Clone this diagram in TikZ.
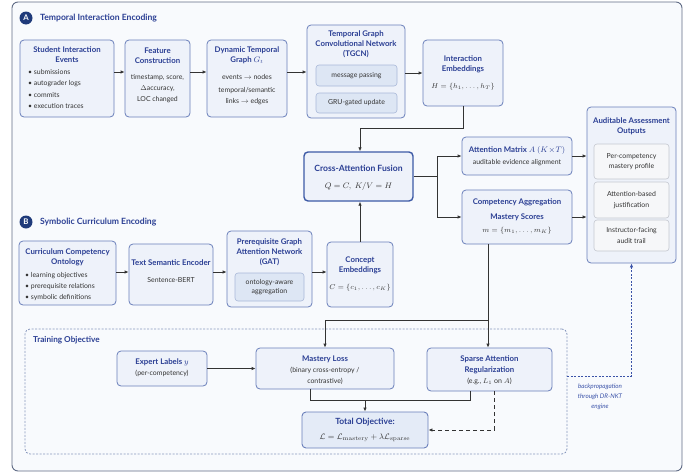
\documentclass[tikz,border=0pt]{standalone}
\usepackage[no-math]{fontspec}
\setmainfont{Lato}
\usetikzlibrary{arrows.meta}
\definecolor{framec}{HTML}{5F6B85}
\definecolor{framef}{HTML}{F8FAFD}
\definecolor{boxc}{HTML}{6A7FBA}
\definecolor{boxf}{HTML}{EEF2FA}
\definecolor{innc}{HTML}{A9B8D8}
\definecolor{innf}{HTML}{DDE6F4}
\definecolor{outc}{HTML}{C4C8D0}
\definecolor{outf}{HTML}{F6F7F9}
\definecolor{tblue}{HTML}{2B3F94}
\definecolor{navy}{HTML}{1F3A7A}
\definecolor{txtc}{HTML}{333333}
\definecolor{linec}{HTML}{333333}
\definecolor{cafc}{HTML}{3D5AA6}
\definecolor{trainc}{HTML}{8797BD}
\definecolor{bpc}{HTML}{3A52A8}
\definecolor{tobjf}{HTML}{E4EBF7}
\tikzset{
  framest/.style={draw=framec, fill=framef, rounded corners=6pt, line width=0.9pt},
  box/.style={draw=boxc, fill=boxf, rounded corners=4pt, line width=0.8pt, inner sep=0},
  cafst/.style={draw=cafc, fill=boxf, rounded corners=4pt, line width=1.4pt, inner sep=0},
  tobjst/.style={draw=boxc, fill=tobjf, rounded corners=4pt, line width=0.9pt, inner sep=0},
  innerbox/.style={draw=innc, fill=innf, rounded corners=3pt, line width=0.6pt, inner sep=0},
  outbox/.style={draw=outc, fill=outf, rounded corners=3pt, line width=0.6pt, inner sep=0},
  trainst/.style={draw=trainc, dash pattern=on 2pt off 1.5pt, rounded corners=5pt, line width=0.8pt, inner sep=0},
  ttl/.style={font=\fontsize{7.8}{10}\selectfont\bfseries, text=tblue, align=center, inner sep=0},
  txt/.style={font=\fontsize{6.9}{11}\selectfont, text=txtc, align=center, inner sep=0},
  mth/.style={font=\fontsize{7.3}{10}\selectfont, text=txtc, inner sep=0},
  lst/.style={font=\fontsize{6.9}{11.2}\selectfont, text=txtc, align=left, inner sep=0, anchor=west},
  sechd/.style={font=\fontsize{8.6}{9}\selectfont\bfseries, text=tblue, inner sep=0, anchor=west},
  badge/.style={circle, fill=navy, text=white, font=\fontsize{7.8}{8}\selectfont\bfseries, minimum size=13pt, inner sep=0},
  ln/.style={draw=linec, line width=0.8pt},
  arr/.style={draw=linec, line width=0.8pt, -{Latex[length=4pt,width=3.5pt]}},
  dsh/.style={dash pattern=on 4pt off 3pt},
  bpst/.style={draw=bpc, line width=0.8pt, dash pattern=on 2pt off 1.5pt, -{Latex[length=4pt,width=3.5pt]}},
  bptxt/.style={font=\fontsize{6.3}{10}\selectfont\itshape, text=bpc, align=center, inner sep=0}
}
\newcommand\bx[6]{\node[#6, minimum width={(#4-#2)*1pt}, minimum height={(#5-#3)*1pt}] (#1) at ({(#2+#4)/2},{(#3+#5)/2}) {};}
\begin{document}
\begin{tikzpicture}[x=1pt,y=-1pt]
\useasboundingbox (0,0) rectangle (697,474);
\bx{frame}{12}{2}{682}{471}{framest}
% ---------- Section A
\node[badge] (badgeA) at (26,18) {A};
\node[sechd] (secA) at (40,18) {Temporal Interaction Encoding};
\bx{sie}{20}{40}{114}{117}{box}
\node[ttl] (sieT) at (67,55) {Student Interaction\\Events};
\node[lst] (sieL) at (28,89) {• submissions\\• autograder logs\\• commits\\• execution traces};
\bx{fc}{125}{40}{190}{117}{box}
\node[ttl] (fcT) at (157.5,55.5) {Feature\\Construction};
\node[txt] (fcB) at (157.5,88.7) {timestamp, score,\\$\Delta$accuracy,\\LOC changed};
\bx{dtg}{207}{40}{287}{117}{box}
\node[ttl] (dtgT) at (247,55.5) {Dynamic Temporal\\Graph $G_t$};
\node[txt] (dtgB1) at (247,77) {events $\rightarrow$ nodes};
\node[txt] (dtgB2) at (247,96.5) {temporal/semantic\\links $\rightarrow$ edges};
\bx{tgcn}{307}{25}{405}{118}{box}
\node[ttl] (tgcnT) at (356,44.5) {Temporal Graph\\Convolutional Network\\(TGCN)};
\bx{mp}{316}{65}{397}{86}{innerbox}
\node[txt] (mpT) at (mp) {message passing};
\bx{gru}{316}{93}{397}{113}{innerbox}
\node[txt] (gruT) at (gru) {GRU-gated update};
\bx{ie}{423}{40}{503}{106}{box}
\node[ttl] (ieT) at (463,64.5) {Interaction\\Embeddings};
\node[mth] (ieM) at (463,87) {$H=\{h_1,\ldots,h_T\}$};
% ---------- Middle
\bx{caf}{304}{152}{413}{201}{cafst}
\node[ttl, font=\fontsize{8.6}{10}\selectfont\bfseries] (cafT) at (358.5,168) {Cross-Attention Fusion};
\node[mth, font=\fontsize{8.4}{10}\selectfont] (cafM) at (358.5,186) {$Q=C,\ K/V=H$};
\bx{am}{462}{137}{572}{175}{box}
\node[ttl] (amT) at (517,150) {Attention Matrix $A$ $(K\!\times\! T)$};
\node[txt] (amB) at (517,163) {auditable evidence alignment};
\bx{ca}{462}{190}{572}{244}{box}
\node[ttl] (caT) at (517,202) {Competency Aggregation};
\node[ttl] (caT2) at (517,217) {Mastery Scores};
\node[mth] (caM) at (517,231) {$m=\{m_1,\ldots,m_K\}$};
\bx{aao}{587}{107}{676}{263}{box}
\node[ttl] (aaoT) at (631.5,126) {Auditable Assessment\\Outputs};
\bx{o1}{594}{144}{669}{179}{outbox}
\node[txt, font=\fontsize{6.9}{10.5}\selectfont] (o1T) at (o1) {Per-competency\\mastery profile};
\bx{o2}{594}{182}{669}{218}{outbox}
\node[txt, font=\fontsize{6.9}{10.5}\selectfont] (o2T) at (o2) {Attention-based\\justification};
\bx{o3}{594}{220}{669}{251}{outbox}
\node[txt, font=\fontsize{6.9}{10.5}\selectfont] (o3T) at (o3) {Instructor-facing\\audit trail};
% ---------- Section B
\node[badge] (badgeB) at (26,222) {B};
\node[sechd] (secB) at (40,222) {Symbolic Curriculum Encoding};
\bx{cco}{19}{241}{116}{305}{box}
\node[ttl] (ccoT) at (67.5,257) {Curriculum Competency\\Ontology};
\node[lst] (ccoL) at (25,286.5) {• learning objectives\\• prerequisite relations\\• symbolic definitions};
\bx{tse}{129}{244}{213}{305}{box}
\node[ttl] (tseT) at (171,263) {Text Semantic Encoder};
\node[txt] (tseB) at (171,280) {Sentence-BERT};
\bx{gat}{227}{231}{312}{307}{box}
\node[ttl] (gatT) at (269.5,252.5) {Prerequisite Graph\\Attention Network\\(GAT)};
\bx{oaa}{235}{273}{304}{301}{innerbox}
\node[txt, font=\fontsize{6.9}{9.5}\selectfont] (oaaT) at (oaa) {ontology-aware\\aggregation};
\bx{ce}{327}{242}{393}{307}{box}
\node[ttl] (ceT) at (360,265) {Concept\\Embeddings};
\node[mth] (ceM) at (360,288) {$C=\{c_1,\ldots,c_K\}$};
% ---------- Training
\bx{train}{25}{329}{567}{454}{trainst}
\node[ttl, anchor=west, font=\fontsize{8.2}{10}\selectfont\bfseries] (trainT) at (33,340) {Training Objective};
\bx{el}{117}{351}{207}{386}{box}
\node[ttl] (elT) at (162,362) {Expert Labels $y$};
\node[txt] (elB) at (162,373) {(per-competency)};
\bx{ml}{256}{348}{394}{389}{box}
\node[ttl] (mlT) at (325,359) {Mastery Loss};
\node[txt, font=\fontsize{6.9}{10.5}\selectfont] (mlB) at (325,376) {(binary cross-entropy /\\contrastive)};
\bx{sa}{427}{348}{552}{391}{box}
\node[ttl, font=\fontsize{7.8}{11}\selectfont\bfseries] (saT) at (489.5,364.5) {Sparse Attention\\Regularization};
\node[mth, font=\fontsize{7}{10}\selectfont] (saB) at (489.5,381.5) {(e.g., $L_1$ on $A$)};
\bx{tobj}{302}{412}{428}{448}{tobjst}
\node[ttl, font=\fontsize{8.5}{10}\selectfont\bfseries] (tobjT) at (365,422) {Total Objective:};
\node[mth, font=\fontsize{8.4}{10}\selectfont] (tobjM) at (365,438) {$\mathcal{L}=\mathcal{L}_{\mathrm{mastery}}+\lambda\mathcal{L}_{\mathrm{sparse}}$};
\node[bptxt] (bpT) at (600,397) {backpropagation\\through DR-NKT\\engine};
% ---------- Connectors
\coordinate (rA) at (0,72);
\coordinate (rA2) at (0,73);
\draw[arr] (sie.east |- rA) -- (fc.west |- rA);
\draw[arr] (fc.east |- rA) -- (dtg.west |- rA);
\draw[arr] (dtg.east |- rA) -- (tgcn.west |- rA);
\draw[arr] (tgcn.east |- rA2) -- (ie.west |- rA2);
\coordinate (jA) at (0,128);
\draw[arr] (ie.south) -- (ie.south |- jA) -- (ce.north |- jA) -- (ce.north |- caf.north);
\draw[arr] (ce.north) -- (ce.north |- caf.south);
\coordinate (fx) at (437,0);
\draw[ln] (caf.east) -- (caf.east -| fx);
\draw[arr] (caf.east -| fx) |- (am.west);
\draw[arr] (caf.east -| fx) |- (ca.west);
\draw[arr] (am.east) -- (am.east -| aao.west);
\draw[arr] (ca.east) -- (ca.east -| aao.west);
\coordinate (rB) at (0,272);
\draw[arr] (cco.east |- rB) -- (tse.west |- rB);
\draw[arr] (tse.east |- rB) -- (gat.west |- rB);
\draw[arr] (gat.east |- rB) -- (ce.west |- rB);
\coordinate (xv) at (488,0);
\coordinate (yb) at (0,320);
\draw[arr] (ca.south -| xv) -- (sa.north -| xv);
\draw[arr] (xv |- yb) -| (ml.north);
\draw[arr] (el.east) -- (el.east -| ml.west);
\coordinate (x1) at (310,0);
\coordinate (x2) at (470,0);
\coordinate (yc) at (0,400);
\draw[ln] (ml.south -| x1) |- (x2 |- yc) -- (sa.south -| x2);
\draw[arr] (tobj.north |- yc) -- (tobj.north);
\coordinate (x3) at (494,0);
\draw[arr, dsh] (sa.south -| x3) |- (tobj.east);
\coordinate (ybp) at (0,376);
\draw[bpst] (train.east |- ybp) -| (aao.south);
\end{tikzpicture}
\end{document}
